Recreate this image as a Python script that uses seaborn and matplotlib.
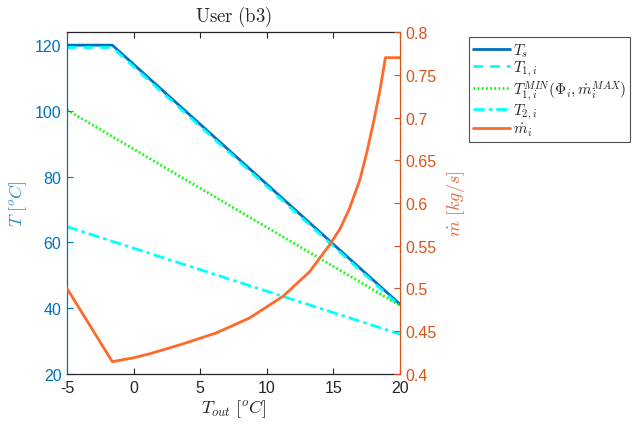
import numpy as np
import pandas as pd
import matplotlib
matplotlib.use('Agg')
import matplotlib.pyplot as plt
import seaborn as sns
from matplotlib.lines import Line2D

# ---- data ----
t_out_s = [-5, -1.6, 20]
T_s = [120.0, 120.0, 41.2]
T_1 = [119.3, 119.3, 40.6]
t_out_lin = [-5, 20]
T_1min = [100.3, 40.8]
T_2 = [64.8, 32.1]
t_out_m = [-5, -1.6, 0, 1.2, 3.7, 6.2, 8.7, 11.2, 13.2, 14.7, 15.5, 16.2, 17.0,
           17.5, 18.0, 18.5, 18.9, 20]
m_dot = [0.500, 0.4144, 0.419, 0.4236, 0.4352, 0.448, 0.4655, 0.4907, 0.5195,
         0.5507, 0.570, 0.5934, 0.628, 0.659, 0.694, 0.7326, 0.770, 0.770]
x_ticks = [-5, 0, 5, 10, 15, 20]
yl_ticks = [20, 40, 60, 80, 100, 120]
yr_ticks = [0.4, 0.45, 0.5, 0.55, 0.6, 0.65, 0.7, 0.75, 0.8]
yr_labels = ['0.4', '0.45', '0.5', '0.55', '0.6', '0.65', '0.7', '0.75', '0.8']

sns.set_style('white')
plt.rcParams['font.family'] = ['Liberation Sans', 'DejaVu Sans']
plt.rcParams['mathtext.fontset'] = 'cm'

BLUE = '#0072BD'
ORANGE = '#D95319'
LINE_ORANGE = '#FF6929'
CYAN = '#00FFFF'
GREEN = '#00FF00'
DARK = '#262626'

fig = plt.figure(figsize=(6.34, 4.27), dpi=100)
ax = fig.add_axes([0.1057, 0.1218, 0.5253, 0.8009])
ax2 = ax.twinx()

lw = 2.0
DASH = (0, (3.5, 2.5))
DOT = (0, (0.6, 0.9))
DASHDOT = (0, (4, 1.5, 1.2, 1.5))
sns.lineplot(x=t_out_s, y=T_s, ax=ax, color=BLUE, lw=lw, sort=False, estimator=None)
sns.lineplot(x=t_out_s, y=T_1, ax=ax, color=CYAN, lw=lw, sort=False, estimator=None,
             linestyle=DASH)
sns.lineplot(x=t_out_lin, y=T_1min, ax=ax, color=GREEN, lw=lw, sort=False, estimator=None,
             linestyle=DOT)
sns.lineplot(x=t_out_lin, y=T_2, ax=ax, color=CYAN, lw=lw, sort=False, estimator=None,
             linestyle=DASHDOT)
sns.lineplot(x=t_out_m, y=m_dot, ax=ax2, color=LINE_ORANGE, lw=lw, sort=False, estimator=None)

ax.set_xlim(-5, 20)
ax.set_ylim(20, 124)
ax2.set_ylim(0.4, 0.8)
ax.set_xticks(x_ticks)
ax.set_xticklabels([str(v) for v in x_ticks])
ax.set_yticks(yl_ticks)
ax.set_yticklabels([str(v) for v in yl_ticks])
ax2.set_yticks(yr_ticks)
ax2.set_yticklabels(yr_labels)

ax.tick_params(axis='x', direction='in', top=True, bottom=True, length=4, width=0.8,
               colors=DARK, labelsize=11.5, pad=4)
ax.tick_params(axis='y', direction='in', left=True, right=False, length=4, width=0.8,
               colors=BLUE, labelsize=11.5, pad=4)
ax2.tick_params(axis='y', direction='in', right=True, left=False, length=4, width=0.8,
                colors=ORANGE, labelsize=11.5, pad=4)

for s in ['top', 'bottom']:
    ax.spines[s].set_color(DARK)
    ax.spines[s].set_linewidth(0.9)
    ax.spines[s].set_visible(True)
ax.spines['left'].set_color(BLUE)
ax.spines['left'].set_linewidth(0.9)
ax.spines['left'].set_visible(True)
ax.spines['right'].set_visible(False)
for s in ['left', 'top', 'bottom']:
    ax2.spines[s].set_visible(False)
ax2.spines['right'].set_color(ORANGE)
ax2.spines['right'].set_linewidth(0.9)
ax2.spines['right'].set_visible(True)

ax.set_xlabel(r'$T_{out}\ [^oC]$', fontsize=13, color=DARK, labelpad=2)
ax.set_ylabel(r'$T\ [^oC]$', fontsize=13, color='#2E8FCF', labelpad=4)
ax2.set_ylabel(r'$\dot{m}\ [kg/s]$', fontsize=13, color='#E0693A', labelpad=6)
ax.set_title(r'$\mathrm{User\ (b3)}$', fontsize=13.5, color=DARK, pad=8)

handles = [
    Line2D([], [], color=BLUE, lw=lw),
    Line2D([], [], color=CYAN, lw=lw, linestyle=DASH),
    Line2D([], [], color=GREEN, lw=lw, linestyle=DOT),
    Line2D([], [], color=CYAN, lw=lw, linestyle=DASHDOT),
    Line2D([], [], color=LINE_ORANGE, lw=lw),
]
labels = [r'$T_s$', r'$T_{1,i}$', r'$T_{1,i}^{MIN}(\Phi_i,\dot{m}_i^{MAX})$',
          r'$T_{2,i}$', r'$\dot{m}_i$']
leg = fig.legend(handles, labels, loc='upper left', bbox_to_anchor=(0.740, 0.910),
                 bbox_transform=fig.transFigure, frameon=True, fancybox=False,
                 edgecolor=DARK, fontsize=11, handlelength=2.4, handletextpad=0.2,
                 labelspacing=0.0, borderpad=0.25, borderaxespad=0)
leg.get_frame().set_linewidth(0.8)

fig.savefig('out.png', dpi=100)
